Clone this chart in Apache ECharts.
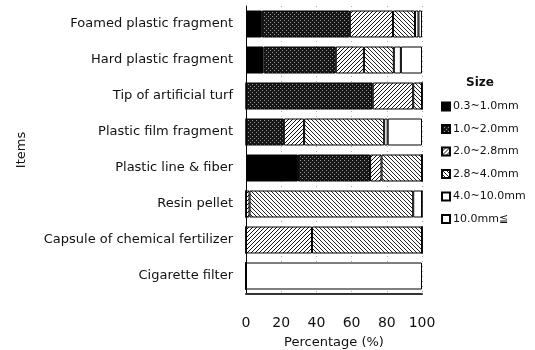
<!DOCTYPE html>
<html lang="en">
<head>
  <meta charset="UTF-8">
  <title>Size composition</title>
  <script src="https://cdn.jsdelivr.net/npm/echarts@6/dist/echarts.min.js"></script>
</head>
<body style="margin:0">
<div id="box" style="width: 535px;height: 350px;"></div>
<script>
  // categories, top to bottom
  var items = ['Foamed plastic fragment', 'Hard plastic fragment', 'Tip of artificial turf',
    'Plastic film fragment', 'Plastic line & fiber', 'Resin pellet',
    'Capsule of chemical fertilizer', 'Cigarette filter'];
  var sizes = ['0.3~1.0mm', '1.0~2.0mm', '2.0~2.8mm', '2.8~4.0mm', '4.0~10.0mm', '10.0mm≦'];
  // percentage of each size class, per item
  var s03 = [9, 10, 0, 0, 29.5, 0, 0, 0];
  var s10 = [50, 41, 72, 21.5, 41, 0, 0, 0];
  var s20 = [24.5, 16, 23, 11.5, 6.5, 2, 37.5, 0];
  var s28 = [12.5, 17, 5, 45.5, 23, 93, 62.5, 0];
  var s40 = [2, 4, 0, 2, 0, 5, 0, 0];
  var s100 = [2, 12, 0, 19.5, 0, 0, 0, 100];
  var xTicks = [0, 20, 40, 60, 80, 100];

  // small tiles used as fill patterns
  function tile(size, bg, fg, pts) {
    var c = document.createElement('canvas');
    c.width = size; c.height = size;
    var ctx = c.getContext('2d');
    ctx.fillStyle = bg;
    ctx.fillRect(0, 0, size, size);
    ctx.fillStyle = fg;
    pts.forEach(function (p) { ctx.fillRect(p[0], p[1], 1, 1); });
    return {image: c, repeat: 'repeat'};
  }
  var dots = tile(4, '#161616', '#9a9a9a', [[0, 0], [2, 2]]);
  var fwd = tile(4, '#ffffff', '#111111', [[3, 0], [2, 1], [1, 2], [0, 3]]);
  var back = tile(4, '#ffffff', '#222222', [[0, 0], [1, 1], [2, 2], [3, 3]]);

  var fills = ['#000000', dots, fwd, back, '#ffffff', '#ffffff'];
  var values = [s03, s10, s20, s28, s40, s100];
  var font = 'DejaVu Sans';

  var myChart = echarts.init(document.getElementById('box'));
  var series = sizes.map(function (name, i) {
    return {
      name: name,
      type: 'bar',
      stack: 'all',
      barCategoryGap: '25%',
      data: values[i],
      itemStyle: {color: fills[i], borderColor: '#000', borderWidth: 1},
      emphasis: {disabled: true}
    };
  });

  var option = {
    animation: false,
    title: {
      text: 'Size', left: 461, top: 72,
      textStyle: {fontSize: 12, fontWeight: 'bold', color: '#111', fontFamily: font}
    },
    legend: {
      data: sizes, orient: 'vertical', left: 436, top: 95,
      icon: 'rect', itemWidth: 8, itemHeight: 8, itemGap: 9.5,
      textStyle: {fontSize: 11, lineHeight: 13, color: '#111', fontFamily: font, padding: [0, 0, 0, -2]}
    },
    grid: {left: 246, right: 113, top: 6, bottom: 56, outerBoundsMode: 'none'},
    xAxis: {
      type: 'value', min: 0, max: 100, interval: 20,
      name: 'Percentage (%)', nameLocation: 'middle', nameGap: 42,
      nameTextStyle: {fontSize: 13, color: '#111', fontFamily: font},
      axisLine: {show: true, lineStyle: {color: '#333', width: 2}},
      axisTick: {show: false},
      axisLabel: {margin: 22, fontSize: 14, color: '#111', fontFamily: font,
        formatter: function (v) { return xTicks.indexOf(v) >= 0 ? String(v) : ''; }},
      splitLine: {show: true, lineStyle: {color: '#aaa', type: [1, 4]}}
    },
    yAxis: {
      type: 'category', data: items, inverse: true,
      name: 'Items', nameLocation: 'middle', nameGap: 218, nameRotate: 90,
      nameTextStyle: {fontSize: 13, color: '#111', fontFamily: font},
      axisLine: {show: true, lineStyle: {color: '#000'}},
      axisTick: {show: false},
      axisLabel: {margin: 13, fontSize: 13, color: '#111', fontFamily: font}
    },
    series: series
  };
  myChart.setOption(option);
</script>
</body>
</html>
